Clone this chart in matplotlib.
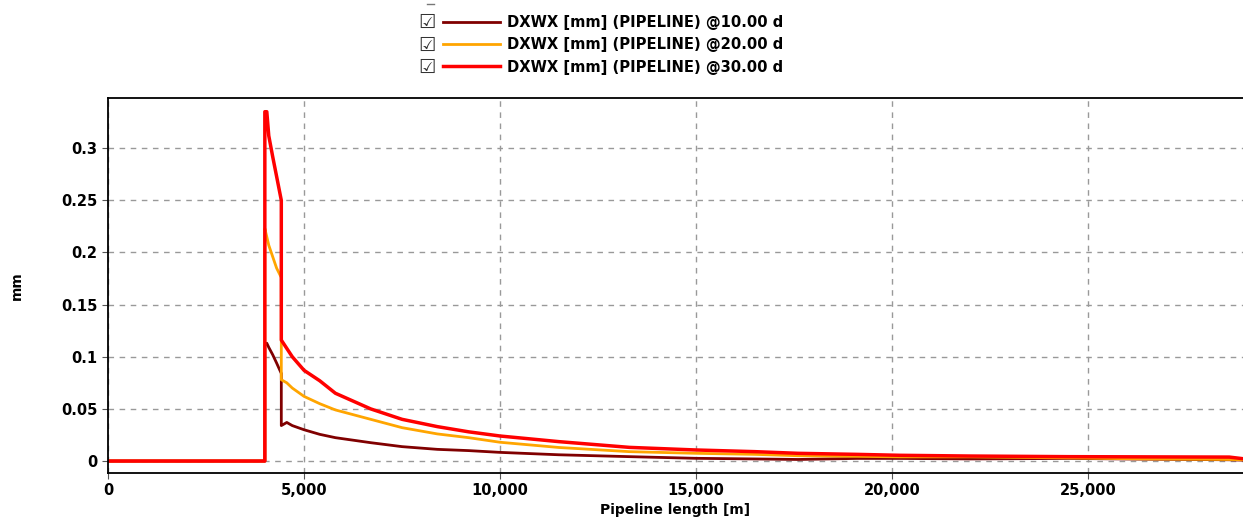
#Imports
import matplotlib.pyplot as plt
import matplotlib.ticker as mticker
from matplotlib.lines import Line2D
import numpy as np

#Data (pipeline length in m, DXWX in mm)
length = [0, 4000, 4000, 4050, 4100, 4200, 4300, 4420, 4420, 4560, 4700, 5000, 5400, 5800,
          6700, 7500, 8400, 9200, 10000, 11500, 13300, 15000, 16500, 17600, 19100, 20200,
          22000, 24500, 26500, 28600, 29000]
dxwx_10d = [0, 0, 0.111, 0.113, 0.109, 0.102, 0.094, 0.084, 0.034, 0.037, 0.034, 0.030,
            0.0256, 0.0224, 0.0176, 0.0138, 0.0112, 0.0100, 0.0083, 0.006, 0.0042, 0.0026,
            0.002, 0.0015, 0.0025, 0.0025, 0.002, 0.0025, 0.0018, 0.0012, 0.0008]
dxwx_20d = [0, 0, 0.223, 0.215, 0.207, 0.196, 0.185, 0.176, 0.078, 0.075, 0.07, 0.062,
            0.055, 0.049, 0.040, 0.032, 0.026, 0.0224, 0.018, 0.013, 0.009, 0.0074, 0.0064,
            0.0051, 0.0045, 0.004, 0.004, 0.003, 0.002, 0.0015, 0.0012]
dxwx_30d = [0, 0, 0.335, 0.335, 0.312, 0.292, 0.273, 0.25, 0.116, 0.108, 0.1, 0.087,
            0.077, 0.065, 0.050, 0.040, 0.033, 0.028, 0.024, 0.0186, 0.0131, 0.0106, 0.009,
            0.0074, 0.0064, 0.0055, 0.0048, 0.0042, 0.004, 0.0038, 0.002]
labels = ['DXWX [mm] (PIPELINE) @10.00 d', 'DXWX [mm] (PIPELINE) @20.00 d',
          'DXWX [mm] (PIPELINE) @30.00 d']

plt.rcParams['font.family'] = ['DejaVu Sans']
plt.rcParams['font.weight'] = 'bold'

fig = plt.figure(figsize=(12.43, 5.25), dpi=100)
ax = fig.add_axes([0.0869, 0.099, 0.9131, 0.714])

ax.plot(length, dxwx_10d, color='#800000', lw=2.0, label=labels[0])
ax.plot(length, dxwx_20d, color='#FFA500', lw=2.0, label=labels[1])
ax.plot(length, dxwx_30d, color='#FF0000', lw=2.5, label=labels[2])

ax.set_xlim(0, 28950)
ax.set_ylim(-0.0115, 0.348)
ax.set_xticks(np.arange(0, 25001, 5000))
ax.set_yticks(np.arange(0, 0.31, 0.05))
ax.xaxis.set_major_formatter(mticker.FuncFormatter(lambda v, p: f'{int(v):,}'))
ax.yaxis.set_major_formatter(mticker.FuncFormatter(lambda v, p: f'{v:.2f}'.rstrip('0').rstrip('.')))
ax.tick_params(labelsize=10.5, length=4, color='#555555')
ax.grid(True, color='#999999', linestyle=(0, (4, 4)), lw=1)
ax.spines['right'].set_visible(False)
for s in ['left', 'top', 'bottom']:
    ax.spines[s].set_linewidth(1.3)

ax.set_xlabel('Pipeline length [m]', fontsize=10, fontweight='bold', labelpad=3)
ax.set_ylabel('mm', fontsize=10, fontweight='bold', labelpad=27)

#Legend above the plot with checkboxes
fig.legend(loc='upper left', bbox_to_anchor=(0.3455, 0.997), frameon=False, fontsize=10.6,
           handlelength=3.9, handletextpad=0.45, labelspacing=0.5)
for yy in [22, 45, 67]:
    fig.text(427 / 1243, 1 - yy / 525, '\u2611', fontsize=14, color='#333333',
             ha='center', va='center')
fig.add_artist(Line2D([427 / 1243, 434 / 1243], [1 - 4 / 525, 1 - 4 / 525],
                      color='#777777', lw=1))

plt.savefig('out.png', dpi=100)
